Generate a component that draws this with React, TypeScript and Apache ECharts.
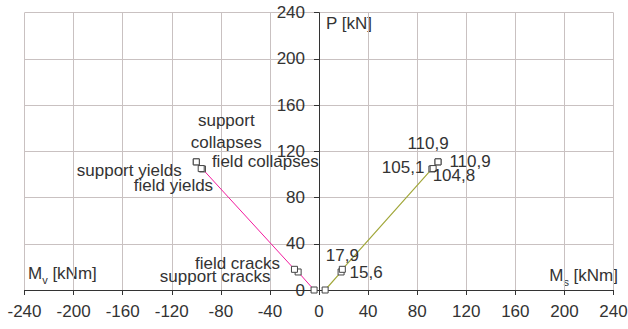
import React, { useEffect, useRef } from "react";
import * as echarts from "echarts";

// Load P [kN] at each stage (shared by both moment series)
const loadP = [0, 15.6, 17.9, 104.8, 105.1, 110.9, 110.9];
// Span moment Ms [kNm]
const spanMoment = [5, 18, 19, 92, 93, 97, 97];
// Support moment Mv [kNm]
const supportMoment = [-4, -17, -20, -95, -96, -100, -100];
// Stage names shown next to the support branch
const stageNames = ["", "support cracks", "field cracks", "field yields", "support yields", "field collapses", "support\ncollapses"];
// Value labels shown next to the span branch
const valueLabels = ["", "15,6", "17,9", "104,8", "105,1", "110,9", "110,9"];

const xTicks = { min: -240, max: 240, interval: 40 };
const yTicks = { min: 0, max: 240, interval: 40 };

// label offsets (px) from each marker's centre
const supportOffsets = [[0, 0], [-83, 5], [-57, -6], [-29, 17], [-72, 1.5], [69, 0], [30, -30]];
const spanOffsets = [[0, 0], [25, 1], [0, -14], [22, 7], [-30, -1.5], [32, 0], [-10, -18]];

const FONT = "'Liberation Sans', Arial, sans-serif";
const TEXT = "#333";

const GRID_LEFT = 24.5;
const GRID_RIGHT = 14.5;
const CHART_W = 628;

export default function App() {
  const ref = useRef<HTMLDivElement>(null);
  useEffect(() => {
    if (!ref.current) return;
    const chart = echarts.init(ref.current, null, { renderer: "svg" });

    // horizontal pixel distance from the grid's left edge to x = 0
    const plotW = CHART_W - GRID_LEFT - GRID_RIGHT;
    const zeroShift = (plotW * (0 - xTicks.min)) / (xTicks.max - xTicks.min);

    const buildData = (xs: number[], labels: string[], offsets: number[][]) =>
      xs.map((x, i) => ({
        value: [x, loadP[i]],
        label: {
          show: labels[i] !== "",
          formatter: labels[i],
          position: "inside",
          offset: offsets[i],
          color: TEXT,
          fontFamily: FONT,
          fontSize: 17,
          lineHeight: 22,
          align: "center",
          verticalAlign: "middle",
        },
      }));

    const markerStyle = { color: "#fff", borderColor: "#444", borderWidth: 1 };

    chart.setOption({
      animation: false,
      grid: { left: GRID_LEFT, right: GRID_RIGHT, top: 12.7, bottom: 39, outerBoundsMode: "none" },
      xAxis: {
        type: "value",
        ...xTicks,
        axisLine: { onZero: true, lineStyle: { color: "#333", width: 1 } },
        axisTick: { show: true, length: 5, lineStyle: { color: "#333" } },
        axisLabel: { color: TEXT, fontFamily: FONT, fontSize: 17, margin: 13 },
        splitLine: { show: true, lineStyle: { color: "#c9c1c1", width: 1 } },
      },
      yAxis: {
        type: "value",
        ...yTicks,
        position: "left",
        offset: -zeroShift,
        axisLine: { show: true, onZero: false, lineStyle: { color: "#333", width: 1 } },
        axisTick: { show: true, length: 5, lineStyle: { color: "#333" } },
        axisLabel: { color: TEXT, fontFamily: FONT, fontSize: 17, margin: 14 },
        splitLine: { show: true, lineStyle: { color: "#c9c1c1", width: 1 } },
      },
      series: [
        {
          type: "line",
          name: "Mv",
          data: buildData(supportMoment, stageNames, supportOffsets),
          symbol: "rect",
          symbolSize: 6,
          lineStyle: { color: "#f21a9e", width: 1 },
          itemStyle: markerStyle,
          z: 3,
        },
        {
          type: "line",
          name: "Ms",
          data: buildData(spanMoment, valueLabels, spanOffsets),
          symbol: "rect",
          symbolSize: 6,
          lineStyle: { color: "#a2a83c", width: 1.2 },
          itemStyle: markerStyle,
          z: 3,
        },
      ],
      graphic: [
        {
          type: "text",
          left: 326,
          top: 15,
          style: { text: "P [kN]", fill: TEXT, font: `17px ${FONT}` },
        },
        {
          type: "text",
          left: 28,
          top: 265,
          style: {
            text: "{m|M}{s|v}{m| [kNm]}",
            rich: {
              m: { fill: TEXT, fontFamily: FONT, fontSize: 17, verticalAlign: "bottom" },
              s: { fill: TEXT, fontFamily: FONT, fontSize: 11, verticalAlign: "bottom", padding: [0, 0, -3, 0] },
            },
          },
        },
        {
          type: "text",
          right: 10,
          top: 267,
          style: {
            text: "{m|M}{s|s}{m| [kNm]}",
            rich: {
              m: { fill: TEXT, fontFamily: FONT, fontSize: 17, verticalAlign: "bottom" },
              s: { fill: TEXT, fontFamily: FONT, fontSize: 11, verticalAlign: "bottom", padding: [0, 0, -3, 0] },
            },
          },
        },
      ],
    });
    return () => chart.dispose();
  }, []);
  return <div ref={ref} style={{ width: 628, height: 329, position: "absolute", left: 0, top: 0 }} />;
}
